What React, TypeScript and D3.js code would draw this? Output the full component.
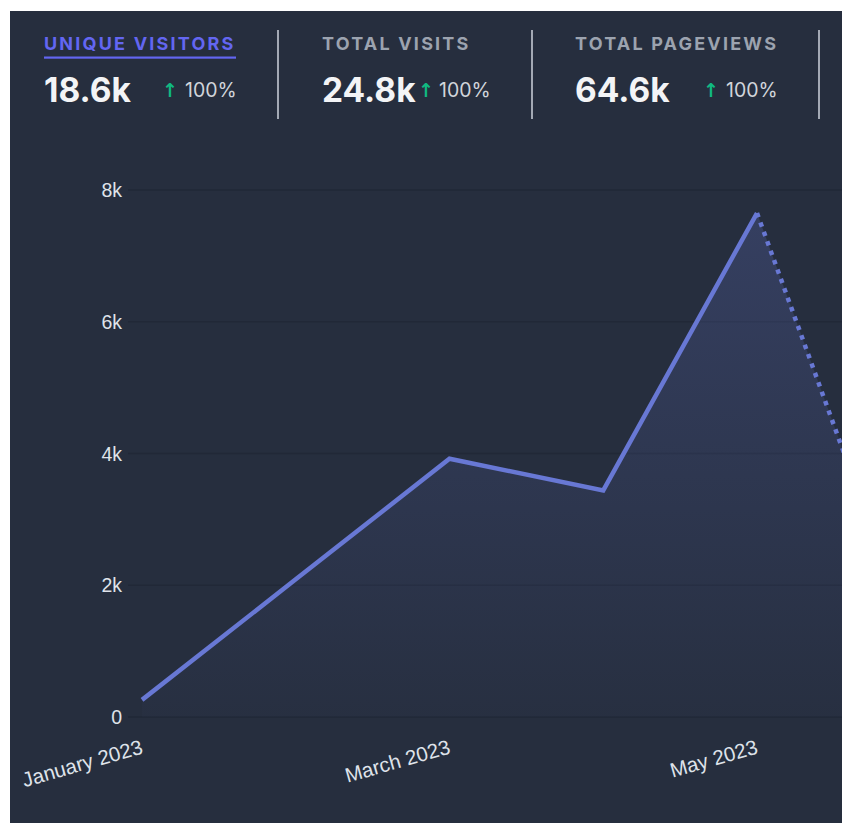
import React from "react";
import * as d3 from "d3";

// ---- data ----
const months = ["January 2023", "February 2023", "March 2023", "April 2023", "May 2023", "June 2023"];
const visitors = [260, 2090, 3920, 3440, 7650, 1210];
const yTicks = [0, 2000, 4000, 6000, 8000];
const shownMonthLabels = ["January 2023", "March 2023", "May 2023"];

const metricNames = ["UNIQUE VISITORS", "TOTAL VISITS", "TOTAL PAGEVIEWS"];
const metricValues = ["18.6k", "24.8k", "64.6k"];
const metricChanges = ["100%", "100%", "100%"];

// ---- layout ----
const W = 842;
const H = 823;
const BG = "#262e3e";
const LINE = "#6878d4";

const metricX = [44, 322, 575];
const changeX = [185, 439, 726];
const arrowX = [170, 426, 711];
const separatorsX = [278, 532, 819];

export default function App() {
  const x = d3.scalePoint<string>().domain(months).range([142, 142 + 5 * 153.75]);
  const y = d3.scaleLinear().domain([0, 8000]).range([717, 190]);

  const pts = months.map((m, i) => ({ m, v: visitors[i] }));
  const solidPts = pts.slice(0, 5);
  const dashPts = pts.slice(4);

  const line = d3
    .line<{ m: string; v: number }>()
    .x((d) => x(d.m)!)
    .y((d) => y(d.v));
  const area = d3
    .area<{ m: string; v: number }>()
    .x((d) => x(d.m)!)
    .y0(y(0))
    .y1((d) => y(d.v));

  const fmt = (v: number) => (v === 0 ? "0" : `${v / 1000}k`);

  return (
    <svg
      width={W}
      height={H}
      style={{ position: "fixed", left: 0, top: 0, display: "block" }}
    >
      <defs>
        <linearGradient id="fillGrad" x1="0" y1={y(8000)} x2="0" y2={y(0)} gradientUnits="userSpaceOnUse">
          <stop offset="0" stopColor="#6878d4" stopOpacity={0.24} />
          <stop offset="1" stopColor="#6878d4" stopOpacity={0.02} />
        </linearGradient>
        <clipPath id="plotClip">
          <rect x={10} y={11} width={W} height={H} />
        </clipPath>
      </defs>
      <rect x={0} y={0} width={W} height={H} fill="#ffffff" />
      <rect x={10} y={11} width={W} height={H} fill={BG} />

      {/* header */}
      {metricNames.map((name, i) => (
        <g key={name}>
          <text
            x={metricX[i]}
            y={49.5}
            fontFamily="Inter, 'Noto Sans', sans-serif"
            fontWeight={700}
            fontSize={18}
            letterSpacing={2.2}
            fill={i === 0 ? "#6366f1" : "#9ca3af"}
          >
            {name}
          </text>
          <text
            x={metricX[i]}
            y={102}
            fontFamily="Inter, 'Noto Sans', sans-serif"
            fontWeight={700}
            fontSize={33.5}
            fill="#f3f4f6"
          >
            {metricValues[i]}
          </text>
          <text
            x={arrowX[i]}
            y={97}
            textAnchor="middle"
            fontFamily="'Noto Sans', 'DejaVu Sans', sans-serif"
            fontWeight={700}
            fontSize={19}
            fill="#10b981"
          >
            ↑
          </text>
          <text
            x={changeX[i]}
            y={96.5}
            fontFamily="Inter, 'Noto Sans', sans-serif"
            fontSize={19.5}
            fill="#d1d5db"
          >
            {metricChanges[i]}
          </text>
        </g>
      ))}
      <rect x={44} y={56.5} width={192} height={2.2} fill="#6366f1" />
      {separatorsX.map((sx) => (
        <line key={sx} x1={sx} x2={sx} y1={30} y2={119} stroke="#a3a9b4" strokeWidth={2} />
      ))}

      {/* grid */}
      <g clipPath="url(#plotClip)">
        {yTicks.map((t) => (
          <line key={t} x1={128} x2={W + 20} y1={y(t)} y2={y(t)} stroke="#212837" strokeWidth={1.5} />
        ))}
        <path d={area(solidPts) || ""} fill="url(#fillGrad)" />
        <path d={area(dashPts) || ""} fill="url(#fillGrad)" />
        <path
          d={line(solidPts) || ""}
          fill="none"
          stroke={LINE}
          strokeWidth={4.5}
          strokeLinejoin="miter"
        />
        <path
          d={line(dashPts) || ""}
          fill="none"
          stroke={LINE}
          strokeWidth={4.5}
          strokeDasharray="4.5 5.5"
        />
      </g>

      {/* y axis labels */}
      {yTicks.map((t) => (
        <text
          key={t}
          x={122}
          y={y(t)}
          dy="0.36em"
          textAnchor="end"
          fontFamily="'Liberation Sans', Arial, sans-serif"
          fontSize={19.5}
          fill="#dfe3ea"
        >
          {fmt(t)}
        </text>
      ))}

      {/* x axis labels */}
      {shownMonthLabels.map((m) => (
        <text
          key={m}
          transform={`translate(${x(m)! + 2},${753}) rotate(-16)`}
          textAnchor="end"
          fontFamily="'Liberation Sans', Arial, sans-serif"
          fontSize={20.5}
          fill="#dfe3ea"
        >
          {m}
        </text>
      ))}
    </svg>
  );
}
